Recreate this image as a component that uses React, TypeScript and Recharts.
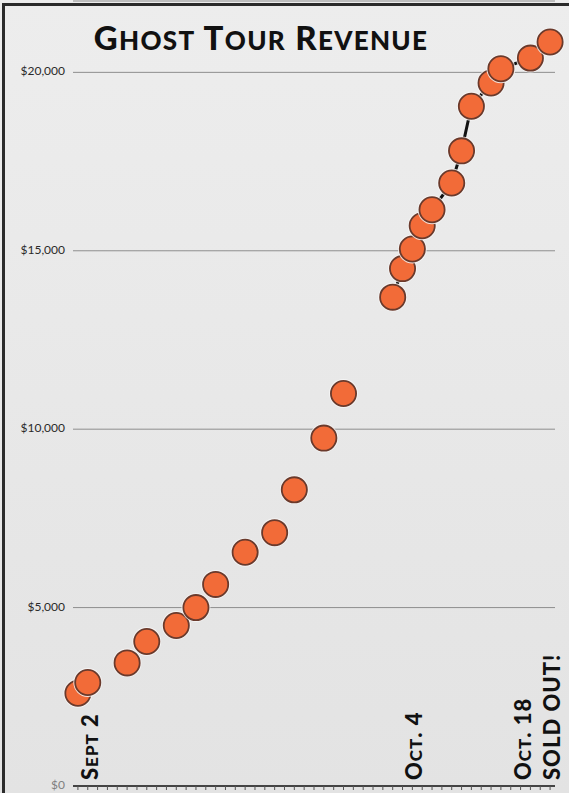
import React from 'react';
import { ComposedChart, Line, XAxis, YAxis, CartesianGrid } from 'recharts';

// Day numbers counted from Sept 1 (Sept 2 = 2, Oct 4 = 34, Oct 18 = 48)
const septDays = [2, 3, 7, 9, 12, 14, 16, 19, 22, 24, 27, 29];
const septRevenue = [2600, 2900, 3450, 4050, 4500, 5000, 5650, 6550, 7100, 8300, 9750, 11000];
const octDays = [34, 35, 36, 37, 38, 40, 41, 42, 44, 45, 48, 50];
const octRevenue = [13700, 14500, 15050, 15700, 16150, 16900, 17800, 19050, 19700, 20100, 20400, 20850];

const yTicks = [0, 5000, 10000, 15000, 20000];
const dayTicks = [2, 3, 4, 5, 6, 7, 8, 9, 10, 11, 12, 13, 14, 15, 16, 17, 18, 19, 20, 21, 22, 23, 24, 25, 26, 27, 28, 29, 30, 31, 32, 33, 34, 35, 36, 37, 38, 39, 40, 41, 42, 43, 44, 45, 46, 47, 48, 49, 50];
// axis positions where the picture places its date labels
const labelDays = [3, 36, 47, 50];
const labelTexts = ['Sept 2', 'Oct. 4', 'Oct. 18', 'SOLD OUT!'];
const titleText = 'Ghost Tour Revenue';

const septData = septDays.map((day, i) => ({ day, revenue: septRevenue[i] }));
const octData = octDays.map((day, i) => ({ day, revenue: octRevenue[i] }));

const FONT = 'Lato, "Open Sans", sans-serif';

function capsRuns(text: string) {
  const runs: { big: boolean; text: string }[] = [];
  for (const ch of text) {
    const big = !(ch >= 'a' && ch <= 'z');
    const last = runs[runs.length - 1];
    if (last && last.big === big) last.text += ch.toUpperCase();
    else runs.push({ big, text: ch.toUpperCase() });
  }
  return runs;
}

const RevDot = (props: any) => {
  const { cx, cy } = props;
  if (cx == null || cy == null) return null;
  return (
    <g>
      <circle cx={cx} cy={cy} r={14.4} fill="#f7f7f7" opacity={0.85} />
      <circle cx={cx} cy={cy} r={12.6} fill="#f26b38" stroke="#6a3a2c" strokeWidth={1.8} />
    </g>
  );
};

const XTick = (props: any) => {
  const { x, y, payload } = props;
  const idx = labelDays.indexOf(payload.value);
  if (idx < 0) return null;
  const runs = capsRuns(labelTexts[idx]);
  return (
    <text
      transform={`translate(${x + 10},${y - 10}) rotate(-90)`}
      fontFamily={FONT}
      fontWeight={900}
      fill="#111"
      textAnchor="start"
      letterSpacing={1}
    >
      {runs.map((r, i) => (
        <tspan key={i} fontSize={r.big ? 22 : 17}>{r.text}</tspan>
      ))}
    </text>
  );
};

const YTick = (props: any) => {
  const { x, y, payload } = props;
  const v = payload.value as number;
  const label = '$' + v.toLocaleString('en-US');
  return (
    <text x={x} y={y} dy={3} textAnchor="end" fontFamily={FONT} fontSize={12} fill={v === 0 ? '#808080' : '#2a2a2a'}>
      {label}
    </text>
  );
};

export default function App() {
  const titleRuns = capsRuns(titleText);
  return (
    <div
      style={{
        position: 'absolute',
        left: 0,
        top: 0,
        width: 569,
        height: 793,
        overflow: 'hidden',
        background: 'linear-gradient(#ededed, #e3e3e3)',
      }}
    >
      <div
        style={{
          position: 'absolute',
          left: 2,
          top: 3,
          width: 600,
          height: 800,
          borderLeft: '3px solid #2b2b2b',
          borderTop: '3px solid #2b2b2b',
        }}
      />
      <div
        style={{
          position: 'absolute',
          left: 0,
          width: 522,
          top: 17,
          textAlign: 'center',
          fontFamily: FONT,
          fontWeight: 900,
          color: '#111',
          letterSpacing: 1.3,
          lineHeight: '40px',
          whiteSpace: 'nowrap',
        }}
      >
        {titleRuns.map((r, i) => (
          <span key={i} style={{ fontSize: r.big ? 33 : 26 }}>{r.text}</span>
        ))}
      </div>
      <div style={{ position: 'absolute', left: 0, top: 0 }}>
        <ComposedChart width={569} height={793} margin={{ top: 1, right: 14, bottom: 0, left: 0 }}>
          <CartesianGrid vertical={false} stroke="#8e8e8e" strokeWidth={1} />
          <XAxis
            dataKey="day"
            type="number"
            domain={[1.5, 50.5]}
            ticks={dayTicks}
            interval={0}
            height={7}
            tickSize={4}
            tickMargin={0}
            axisLine={{ stroke: '#444', strokeWidth: 2 }}
            tickLine={{ stroke: '#555', strokeWidth: 1 }}
            tick={<XTick />}
            allowDuplicatedCategory={false}
          />
          <YAxis
            type="number"
            domain={[0, 22000]}
            ticks={yTicks}
            interval={0}
            width={73}
            axisLine={false}
            tickLine={false}
            tickMargin={2}
            tick={<YTick />}
          />
          <Line
            data={septData}
            dataKey="revenue"
            stroke="none"
            dot={<RevDot />}
            activeDot={false}
            isAnimationActive={false}
          />
          <Line
            data={octData}
            dataKey="revenue"
            stroke="#111"
            strokeWidth={3}
            dot={<RevDot />}
            activeDot={false}
            isAnimationActive={false}
          />
        </ComposedChart>
      </div>
    </div>
  );
}
